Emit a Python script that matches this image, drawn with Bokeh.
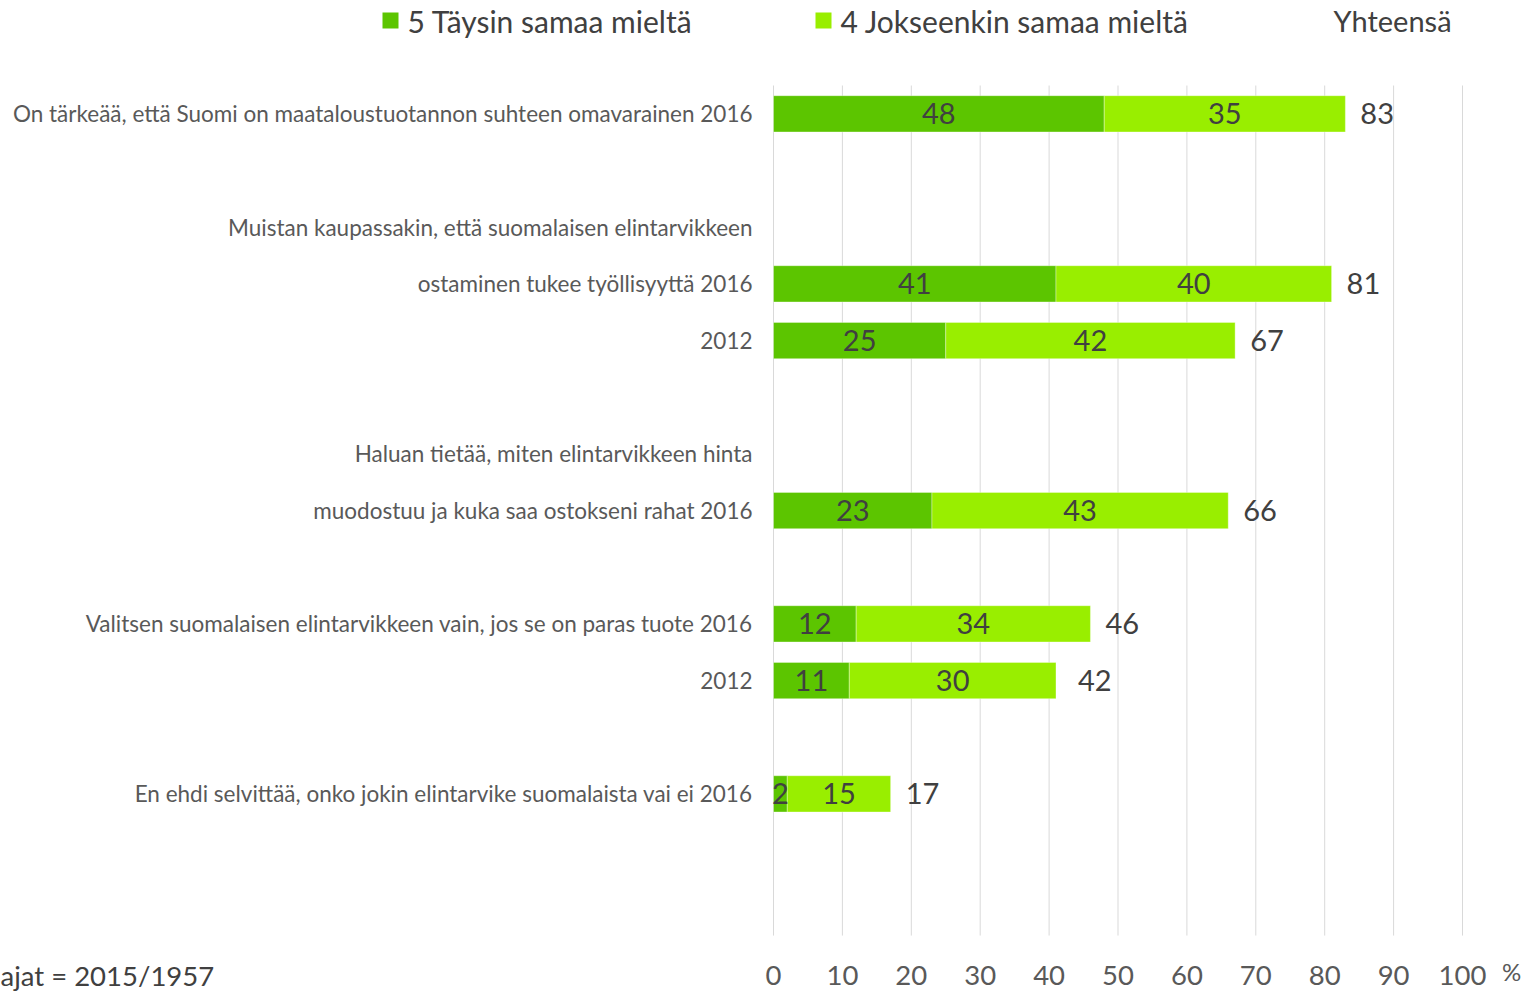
from bokeh.plotting import figure
from bokeh.models import ColumnDataSource, Range1d
from bokeh.core.properties import value
from bokeh.embed import file_html
from bokeh.resources import INLINE

# ---------------- data ----------------
row_labels = [
    "On tärkeää, että Suomi on maataloustuotannon suhteen omavarainen 2016",
    "",
    "Muistan kaupassakin, että suomalaisen elintarvikkeen",
    "ostaminen tukee työllisyyttä 2016",
    "2012",
    "",
    "Haluan tietää, miten elintarvikkeen hinta",
    "muodostuu ja kuka saa ostokseni rahat 2016",
    "",
    "Valitsen suomalaisen elintarvikkeen vain, jos se on paras tuote 2016",
    "2012",
    "",
    "En ehdi selvittää, onko jokin elintarvike suomalaista vai ei 2016",
    "",
    "",
]
bar_rows = [0, 3, 4, 7, 9, 10, 12]
full_agree = [48, 41, 25, 23, 12, 11, 2]
partly_agree = [35, 40, 42, 43, 34, 30, 15]
totals = [83, 81, 67, 66, 46, 42, 17]
x_ticks = [0, 10, 20, 30, 40, 50, 60, 70, 80, 90, 100]
series_names = ["5 Täysin samaa mieltä", "4 Jokseenkin samaa mieltä"]
total_title = "Yhteensä"
note_text = "ajat = 2015/1957"
unit_text = "%"

# ---------------- layout / style ----------------
W, H = 1535, 992
PX0, PX100 = 773, 1462           # pixel position of 0 % and 100 %
TOP, ROW_PX = 85, 56.67          # top of the row area, pixel height of a row
N_ROWS = len(row_labels)

DARK = "#5CC500"
LIGHT = "#99EE00"
TXT = "#404040"
LBL = "#595959"
GRID = "#d9d9d9"
FONT = value("Lato")

ppu = (PX100 - PX0) / 100.0      # pixels per percent


def dx(px):
    return (px - PX0) / ppu


def dy(px):
    return (px - TOP) / ROW_PX - 0.5


p = figure(width=W, height=H, output_backend="svg", toolbar_location=None,
           x_range=Range1d(dx(0), dx(W)), y_range=Range1d(dy(H), dy(0)),
           min_border=0)
p.axis.visible = False
p.grid.visible = False
p.outline_line_color = None
p.background_fill_color = "white"
p.border_fill_color = "white"

# vertical grid lines at the tick values
p.segment(x0=x_ticks, x1=x_ticks, y0=[-0.5] * len(x_ticks), y1=[N_ROWS - 0.5] * len(x_ticks),
          line_color=GRID, line_width=1)

src = ColumnDataSource(dict(
    y=bar_rows,
    zero=[0] * len(bar_rows),
    a_end=full_agree,
    b_end=[a + b for a, b in zip(full_agree, partly_agree)],
    a_mid=[a / 2 for a in full_agree],
    b_mid=[a + b / 2 for a, b in zip(full_agree, partly_agree)],
    tot=totals,
    a_txt=[str(v) for v in full_agree],
    b_txt=[str(v) for v in partly_agree],
    t_txt=[str(v) for v in totals],
))

p.hbar(y="y", left="zero", right="a_end", height=0.64, source=src,
       fill_color=DARK, line_color="white", line_alpha=0.35, line_width=1)
p.hbar(y="y", left="a_end", right="b_end", height=0.64, source=src,
       fill_color=LIGHT, line_color="white", line_alpha=0.35, line_width=1)

vt = dict(source=src, text_font=FONT, text_font_size="29px", text_color=TXT,
          text_baseline="middle")
p.text(x="a_mid", y="y", text="a_txt", text_align="center", **vt)
p.text(x="b_mid", y="y", text="b_txt", text_align="center", **vt)
p.text(x="tot", y="y", text="t_txt", text_align="left", x_offset=15, **vt)

# category labels (left)
lab_rows = [i for i, t in enumerate(row_labels) if t]
p.text(x=[dx(PX0 - 21)] * len(lab_rows), y=lab_rows,
       text=[row_labels[i] for i in lab_rows],
       text_font=FONT, text_font_size="22.5px", text_color=LBL,
       text_align="right", text_baseline="middle")

# x tick labels
p.text(x=x_ticks, y=[dy(975)] * len(x_ticks), text=[str(t) for t in x_ticks],
       text_font=FONT, text_font_size="27.5px", text_color=LBL,
       text_align="center", text_baseline="middle")
p.text(x=[dx(1511)], y=[dy(971)], text=[unit_text],
       text_font=FONT, text_font_size="24px", text_color=LBL,
       text_align="center", text_baseline="middle")

# respondents note (bottom left)
p.text(x=[dx(0)], y=[dy(975)], text=[note_text],
       text_font=FONT, text_font_size="27.5px", text_color=TXT,
       text_align="left", text_baseline="middle")

# legend
p.scatter(x=[dx(390), dx(823)], y=[dy(20), dy(20)], marker="square", size=16,
          fill_color=[DARK, LIGHT], line_color=None)
p.text(x=[dx(407), dx(840)], y=[dy(20)] * 2, text=series_names,
       text_font=FONT, text_font_size="30px", text_color=TXT,
       text_align="left", text_baseline="middle")
p.text(x=[dx(1333)], y=[dy(20)], text=[total_title],
       text_font=FONT, text_font_size="29px", text_color=TXT,
       text_align="left", text_baseline="middle")

open("out.html", "w").write(file_html(p, INLINE))
